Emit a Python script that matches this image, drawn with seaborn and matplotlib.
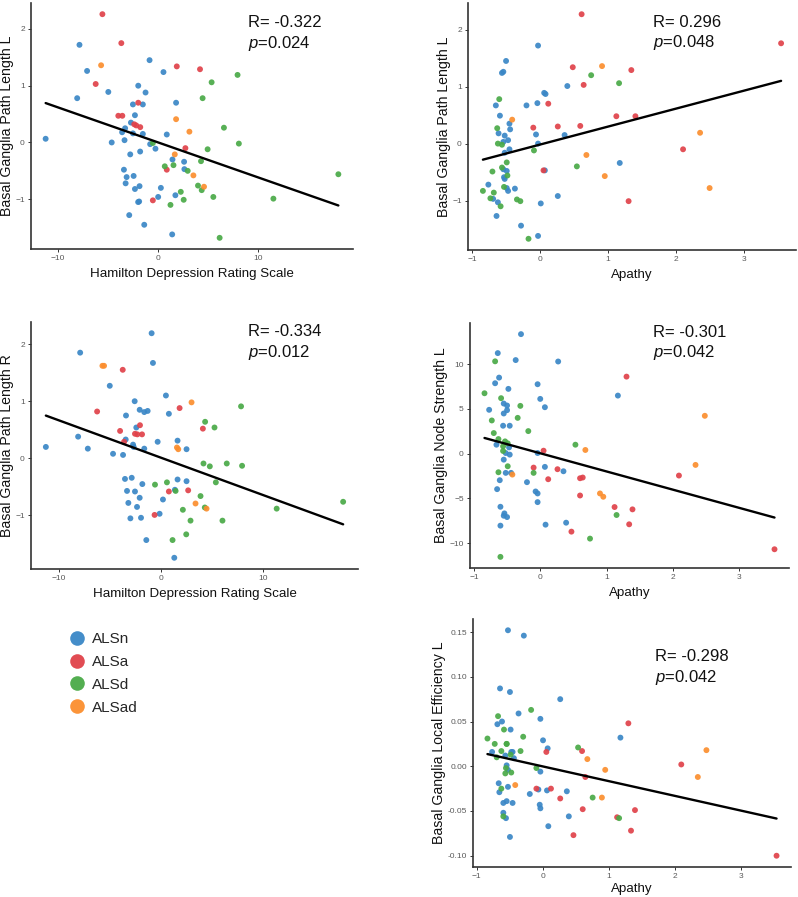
import numpy as np
import pandas as pd
import seaborn as sns
import matplotlib.pyplot as plt
from matplotlib.lines import Line2D

# ---- data ---------------------------------------------------------------
groups = ['ALSn', 'ALSa', 'ALSd', 'ALSad']
colors = ['#3a87c6', '#e0424a', '#4aaa47', '#fb8e2e']

# Hamilton depression vs basal ganglia path length L (top left)
hamL_n_x = [-11.24, -7.86, -8.09, -7.1, -4.98, -4.64, -3.6, -3.3, -3.36, -3.42, -3.15, -3.25, -2.89, -2.79,
            -2.72, -2.52, -2.52, -2.45, -2.32, -2.32, -1.99, -2.0, -1.9, -1.86, -1.8, -1.53, -1.53, -1.26, -1.39,
            -0.86, -0.8, -0.27, 0.0, 0.27, 0.53, 0.86, 1.43, 1.4, 1.72, 1.79, 2.59, 2.62]
hamL_n_y = [0.065, 1.72, 0.78, 1.26, 0.89, 0.0, 0.18, 0.25, 0.04, -0.48, -0.61, -0.72, -1.28, -0.21,
            0.35, 0.67, 0.16, -0.59, 0.48, -0.82, 1.0, -1.05, -1.04, -0.77, -0.16, 0.67, 0.15, 0.88, -1.45,
            1.45, -0.03, -0.11, -0.96, -0.8, 1.24, 0.14, -0.3, -1.62, -0.93, 0.7, -0.34, -0.47]
hamL_a_x = [-5.57, -3.68, -6.24, -3.98, -3.58, -2.39, -2.19, -1.79, -1.99, 1.86, 4.18, 2.72, 0.86, -0.53]
hamL_a_y = [2.26, 1.75, 1.03, 0.47, 0.47, 0.32, 0.3, 0.27, 0.7, 1.34, 1.29, -0.1, -0.48, -1.02]
hamL_d_x = [5.34, 7.93, 4.44, 6.57, 8.06, 4.94, -0.53, 4.28, 0.66, 1.53, 2.95, 3.98, 4.35, 2.26, 5.51,
            2.55, 1.23, 11.51, 18.0, 6.14]
hamL_d_y = [1.06, 1.19, 0.78, 0.26, -0.02, -0.12, -0.01, -0.33, -0.42, -0.4, -0.5, -0.76, -0.84, -0.87, -0.96,
            -1.01, -1.1, -0.99, -0.56, -1.68]
hamL_ad_x = [-5.7, 1.79, 3.12, 1.66, 3.52, 4.58]
hamL_ad_y = [1.36, 0.41, 0.19, -0.21, -0.58, -0.78]

# Hamilton depression vs basal ganglia path length R (middle left)
hamR_n_x = [-11.24, -7.88, -8.08, -7.13, -4.98, -4.66, -3.68, -3.42, -3.39, -3.49, -3.29, -3.16, -2.96, -2.83,
            -2.7, -2.64, -2.54, -2.51, -2.38, -2.31, -2.05, -2.05, -1.92, -1.79, -1.6, -1.27, -1.6, -1.4,
            -0.88, -0.75, -0.29, -0.1, 0.23, 0.52, 0.81, 1.34, 1.4, 1.66, 1.66, 2.54, 2.54]
hamR_n_y = [0.2, 1.85, 0.38, 0.17, 1.27, 0.08, 0.06, 0.33, 0.75, -0.36, -0.57, -0.78, -1.05, -0.34,
            0.24, 0.2, 1.0, -0.58, 0.54, -0.85, 0.85, -0.69, -1.04, -0.45, 0.81, 0.83, 0.17, -1.43,
            2.19, 1.67, 0.29, -0.97, -0.72, 1.1, 0.78, -1.74, -0.55, 0.31, -0.37, 0.16, -0.4]
hamR_a_x = [-6.22, -3.71, -3.97, -3.58, -2.51, -2.28, -2.02, -1.82, 1.86, 4.14, 0.81, 2.7, -0.59]
hamR_a_y = [0.82, 1.55, 0.48, 0.29, 0.43, 0.42, 0.58, 0.42, 0.88, 0.52, -0.58, -0.56, -0.99]
hamR_d_x = [7.88, 4.36, 5.28, 4.2, 4.82, 6.48, 7.98, 5.41, -0.55, 0.62, 1.47, 3.91, 4.33, 2.18, 2.93,
            6.06, 1.17, 2.51, 11.37, 17.88]
hamR_d_y = [0.91, 0.64, 0.54, -0.09, -0.14, -0.09, -0.13, -0.42, -0.46, -0.42, -0.57, -0.66, -0.86, -0.9, -1.09,
            -1.09, -1.43, -1.33, -0.88, -0.76]
hamR_ad_x = [-5.7, -5.54, 3.03, 1.6, 1.73, 3.42, 4.5]
hamR_ad_y = [1.62, 1.62, 0.98, 0.19, 0.16, -0.79, -0.88]

# Apathy vs basal ganglia path length L (top right)
apaL_n_x = [-0.76, -0.69, -0.64, -0.65, -0.62, -0.61, -0.59, -0.56, -0.54, -0.54, -0.52, -0.54, -0.53,
            -0.52, -0.52, -0.5, -0.49, -0.49, -0.47, -0.47, -0.45, -0.44, -0.45, -0.37, -0.28, -0.2, -0.06,
            -0.04, -0.03, -0.03, -0.03, 0.01, 0.06, 0.08, 0.07, 0.26, 0.36, 0.4, 1.17]
apaL_n_y = [-0.72, -0.97, -1.27, 0.67, -1.03, 0.18, 0.49, 1.24, 1.26, 0.03, 0.14, -0.45, -0.59,
            -0.62, -0.16, 1.45, -0.48, -0.78, -0.83, 0.06, 0.35, 0.25, -0.1, -0.79, -1.44, 0.67, 0.16,
            0.71, 1.72, -1.62, 0.0, -1.05, 0.89, 0.87, -0.47, -0.92, 0.15, 1.01, -0.34]
apaL_a_x = [0.61, 3.54, 0.48, 0.64, 1.34, 0.12, -0.1, 0.26, 0.59, 1.12, 1.4, 0.05, 2.1, 1.3]
apaL_a_y = [2.27, 1.76, 1.34, 1.03, 1.29, 0.7, 0.28, 0.3, 0.31, 0.48, 0.48, -0.47, -0.1, -1.01]
apaL_d_x = [-0.84, -0.73, -0.7, -0.68, -0.63, -0.62, -0.6, -0.58, -0.56, -0.56, -0.53, -0.49, -0.48,
            -0.34, -0.29, -0.17, -0.09, 0.54, 0.75, 1.16]
apaL_d_y = [-0.83, -0.96, -0.49, -0.86, 0.27, 0.0, 0.78, -1.1, -0.02, -0.42, -0.76, -0.33, -0.56,
            -0.98, -1.01, -1.67, -0.12, -0.4, 1.2, 1.06]
apaL_ad_x = [0.91, -0.41, 0.68, 0.95, 2.35, 2.49]
apaL_ad_y = [1.36, 0.42, -0.2, -0.57, 0.19, -0.78]

# Apathy vs basal ganglia node strength L (middle right)
apaNS_n_x = [-0.29, -0.64, -0.37, 0.27, -0.62, -0.68, -0.48, -0.04, 0.0, 1.17, -0.55, -0.5, -0.77, -0.5,
             -0.55, 0.07, -0.56, -0.46, -0.66, -0.47, -0.52, -0.46, -0.04, -0.55, -0.52, -0.44, -0.2, -0.61,
             -0.65, 0.07, 0.35, -0.07, -0.04, -0.04, -0.6, -0.55, -0.5, -0.54, -0.6, 0.08, 0.39]
apaNS_n_y = [13.36, 11.24, 10.46, 10.3, 8.5, 7.87, 7.24, 7.76, 6.12, 6.49, 5.6, 5.38, 4.9, 4.86,
             4.49, 5.19, 3.12, 3.12, 1.0, 0.7, 0.07, -0.11, 0.07, -0.67, -2.15, -2.15, -3.19, -2.97,
             -3.97, -1.48, -1.97, -4.23, -4.45, -5.42, -5.94, -6.94, -7.09, -6.68, -8.05, -7.94, -7.72]
apaNS_a_x = [1.3, 0.05, -0.1, 0.26, 0.12, 0.6, 0.64, 0.6, 1.12, 1.39, 1.34, 0.47, 2.09, 3.53]
apaNS_a_y = [8.61, 0.33, -1.56, -1.74, -2.86, -2.75, -2.67, -4.68, -5.97, -6.23, -7.9, -8.72, -2.45, -10.69]
apaNS_d_x = [-0.84, -0.68, -0.59, -0.3, -0.73, -0.34, -0.7, -0.18, -0.63, -0.53, -0.49, -0.56, -0.56,
             -0.49, -0.63, -0.1, 0.53, 1.15, 0.75, -0.6]
apaNS_d_y = [6.75, 10.32, 6.2, 5.34, 3.71, 4.0, 2.3, 2.52, 1.63, 1.37, 1.15, 0.82, 0.3,
             -1.41, -2.08, -2.15, 1.0, -6.86, -9.5, -11.54]
apaNS_ad_x = [0.68, -0.42, 0.9, 0.95, 2.34, 2.48]
apaNS_ad_y = [0.41, -2.34, -4.45, -4.82, -1.26, 4.23]

# Apathy vs basal ganglia local efficiency L (bottom right)
apaLE_n_x = [-0.53, -0.29, -0.65, -0.5, 0.26, -0.37, -0.04, -0.62, -0.69, -0.49, 0.0, 1.17, 0.07, -0.77,
             -0.48, -0.46, -0.57, -0.44, -0.55, -0.53, -0.04, -0.67, -0.66, -0.53, -0.07, 0.06, 0.36, -0.2,
             -0.6, -0.55, -0.46, -0.05, -0.04, -0.6, -0.56, 0.39, 0.08, -0.5]
apaLE_n_y = [0.152, 0.146, 0.087, 0.083, 0.075, 0.059, 0.053, 0.050, 0.047, 0.041, 0.029, 0.032, 0.020, 0.016,
             0.016, 0.016, 0.012, 0.009, 0.001, -0.004, -0.006, -0.019, -0.029, -0.023, -0.026, -0.027, -0.028,
             -0.031, -0.041, -0.039, -0.041, -0.043, -0.047, -0.052, -0.058, -0.056, -0.067, -0.079]
apaLE_a_x = [1.29, 0.05, 0.59, 2.09, 0.64, -0.1, 0.12, 0.26, 0.6, 1.39, 1.12, 1.33, 0.46, 3.53]
apaLE_a_y = [0.048, 0.016, 0.017, 0.002, -0.012, -0.025, -0.025, -0.036, -0.048, -0.049, -0.057, -0.072,
             -0.077, -0.100]
apaLE_d_x = [-0.84, -0.73, -0.68, -0.59, -0.55, -0.55, -0.63, -0.7, -0.34, -0.3, -0.18, -0.49, -0.56,
             -0.57, -0.48, -0.1, -0.63, -0.6, 0.53, 0.75, 1.15]
apaLE_d_y = [0.031, 0.025, 0.056, 0.041, 0.025, 0.025, 0.017, 0.010, 0.017, 0.033, 0.063, 0.013, -0.002,
             -0.008, -0.007, -0.002, -0.025, -0.056, 0.021, -0.035, -0.058]
apaLE_ad_x = [0.67, 0.94, 2.47, 2.34, -0.42, 0.89]
apaLE_ad_y = [0.008, -0.004, 0.018, -0.012, -0.021, -0.035]


def make_df(nx, ny, ax_, ay, dx, dy, adx, ady):
    parts = []
    for g, xs, ys in zip(groups, [nx, ax_, dx, adx], [ny, ay, dy, ady]):
        parts.append(pd.DataFrame({'x': xs, 'y': ys, 'group': g}))
    return pd.concat(parts, ignore_index=True)


df_hamL = make_df(hamL_n_x, hamL_n_y, hamL_a_x, hamL_a_y, hamL_d_x, hamL_d_y, hamL_ad_x, hamL_ad_y)
df_hamR = make_df(hamR_n_x, hamR_n_y, hamR_a_x, hamR_a_y, hamR_d_x, hamR_d_y, hamR_ad_x, hamR_ad_y)
df_apaL = make_df(apaL_n_x, apaL_n_y, apaL_a_x, apaL_a_y, apaL_d_x, apaL_d_y, apaL_ad_x, apaL_ad_y)
df_apaNS = make_df(apaNS_n_x, apaNS_n_y, apaNS_a_x, apaNS_a_y, apaNS_d_x, apaNS_d_y, apaNS_ad_x, apaNS_ad_y)
df_apaLE = make_df(apaLE_n_x, apaLE_n_y, apaLE_a_x, apaLE_a_y, apaLE_d_x, apaLE_d_y, apaLE_ad_x, apaLE_ad_y)

# ---- style --------------------------------------------------------------
sns.set_style('ticks')
plt.rcParams['font.family'] = ['Liberation Sans', 'DejaVu Sans']
plt.rcParams['mathtext.fontset'] = 'custom'
plt.rcParams['mathtext.it'] = 'Liberation Sans:italic'
plt.rcParams['mathtext.rm'] = 'Liberation Sans'

W, H = 798, 897
fig = plt.figure(figsize=(W / 100, H / 100), dpi=100)


def px_axes(l, t, r, b):
    return fig.add_axes([l / W, 1 - b / H, (r - l) / W, (b - t) / H])


def panel(ax, df, xlabel, ylabel, rtxt, ptxt, tx, ty_r, ty_p, xticks, yticks, yfmt=None):
    sns.scatterplot(data=df, x='x', y='y', hue='group', hue_order=groups, palette=colors,
                    s=18, linewidth=0, alpha=0.92, legend=False, ax=ax)
    sns.regplot(data=df, x='x', y='y', scatter=False, ci=None, color='black',
                line_kws=dict(lw=1.7), ax=ax)
    sns.despine(ax=ax)
    for s in ['left', 'bottom']:
        ax.spines[s].set_color('#333333')
        ax.spines[s].set_linewidth(1.2)
    ax.set_xticks(xticks)
    ax.set_yticks(yticks)
    if yfmt:
        ax.set_yticklabels([yfmt % v for v in yticks])
    ax.tick_params(labelsize=6, labelcolor='#5a5a5a', length=2.5, width=0.7, color='#333333', pad=2)
    ax.set_xlabel(xlabel, fontsize=9.6, color='#111111', labelpad=4)
    ax.set_ylabel(ylabel, fontsize=10.2, color='#111111', labelpad=1)
    ax.text(tx, ty_r, rtxt, transform=ax.transAxes, fontsize=12, va='center', ha='left', color='#111111')
    ax.text(tx, ty_p, ptxt, transform=ax.transAxes, fontsize=12, va='center', ha='left', color='#111111')


ax1 = px_axes(31, 3, 353, 249)
panel(ax1, df_hamL, 'Hamilton Depression Rating Scale', 'Basal Ganglia Path Length L',
      'R= -0.322', r'$\mathit{p}$=0.024', 0.674, 0.919, 0.836, [-10, 0, 10], [-1, 0, 1, 2])

ax2 = px_axes(468, 3, 796, 250)
panel(ax2, df_apaL, 'Apathy', 'Basal Ganglia Path Length L',
      'R= 0.296', r'$\mathit{p}$=0.048', 0.564, 0.92, 0.839, [-1, 0, 1, 2, 3], [-1, 0, 1, 2])

ax3 = px_axes(31, 322, 358, 569)
panel(ax3, df_hamR, 'Hamilton Depression Rating Scale', 'Basal Ganglia Path Length R',
      'R= -0.334', r'$\mathit{p}$=0.012', 0.664, 0.96, 0.876, [-10, 0, 10], [-1, 0, 1, 2])

ax4 = px_axes(470, 323, 789, 568)
panel(ax4, df_apaNS, 'Apathy', 'Basal Ganglia Node Strength L',
      'R= -0.301', r'$\mathit{p}$=0.042', 0.574, 0.96, 0.878, [-1, 0, 1, 2, 3], [-10, -5, 0, 5, 10])

ax5 = px_axes(473, 619, 791, 867)
panel(ax5, df_apaLE, 'Apathy', 'Basal Ganglia Local Efficiency L',
      'R= -0.298', r'$\mathit{p}$=0.042', 0.572, 0.848, 0.765, [-1, 0, 1, 2, 3],
      [-0.10, -0.05, 0.0, 0.05, 0.10, 0.15], yfmt='%.2f')
ax5.xaxis.labelpad = 2

handles = [Line2D([], [], marker='o', linestyle='', markersize=10.5, markerfacecolor=c,
                  markeredgewidth=0, alpha=0.95) for c in colors]
fig.legend(handles, groups, loc='upper left', bbox_to_anchor=(68 / W, 1 - 632 / H),
           frameon=False, fontsize=11, handlelength=1.15, handletextpad=0.45,
           labelspacing=0.58, borderpad=0, borderaxespad=0)

fig.savefig('out.png', dpi=100)
